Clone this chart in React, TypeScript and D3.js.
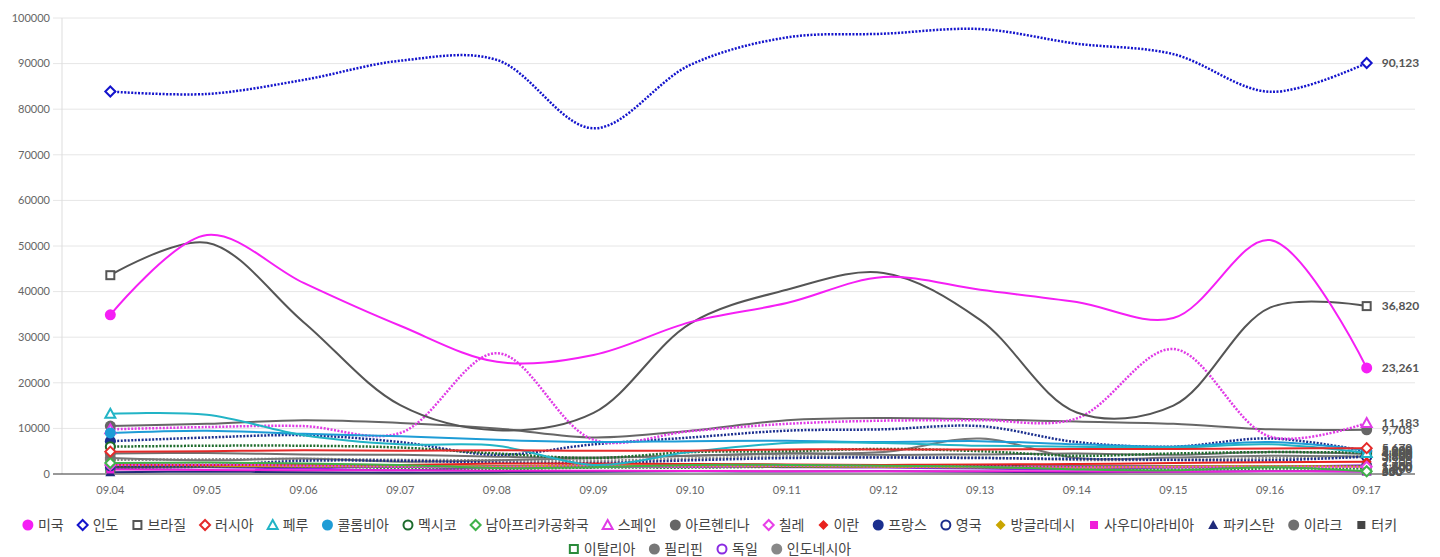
import React from "react";
import * as d3 from "d3";

const categories = ["09.04","09.05","09.06","09.07","09.08","09.09","09.10","09.11","09.12","09.13","09.14","09.15","09.16","09.17"];
const yTicks = [0,10000,20000,30000,40000,50000,60000,70000,80000,90000,100000];

const usa = [34900, 52400, 41900, 32500, 24600, 26100, 33300, 37500, 43200, 40400, 37700, 34200, 51300, 23261];
const india = [83883, 83341, 86432, 90632, 90802, 75809, 89706, 95735, 96551, 97570, 94372, 92071, 83809, 90123];
const brazil = [43600, 50700, 33300, 15100, 9600, 13400, 33000, 40400, 44100, 33800, 13500, 15000, 36500, 36820];
const russia = [4900, 5000, 5200, 5100, 5200, 5100, 5100, 5400, 5400, 5400, 5500, 5500, 5600, 5670];
const peru = [13200, 13000, 8500, 6500, 6200, 2000, 4800, 6800, 6800, 6200, 6000, 5800, 6500, 4600];
const colombia = [9000, 9500, 8800, 8300, 7500, 7000, 7200, 7300, 7000, 7200, 6500, 6000, 7000, 5200];
const mexico = [6000, 6200, 6200, 5800, 4500, 3500, 4800, 5000, 5500, 5000, 4000, 4500, 4800, 4700];
const southAfrica = [2400, 2500, 2300, 2000, 1300, 1500, 2000, 2000, 1800, 1600, 1000, 800, 1500, 600];
const spain = [9800, 10300, 10500, 9000, 26500, 7500, 9400, 11000, 11700, 11800, 12200, 27400, 8200, 11183];
const argentina = [10500, 11000, 11800, 11200, 10000, 8000, 9500, 11800, 12300, 12000, 11500, 11000, 9800, 9703];
const chile = [2000, 2100, 1800, 1600, 1500, 1700, 1600, 1800, 1700, 1600, 1500, 1500, 1600, 1600];
const iran = [2100, 2000, 2050, 2000, 2300, 2300, 2200, 2100, 2000, 2100, 2200, 2400, 2600, 2700];
const france = [7200, 8000, 8500, 7000, 4200, 6500, 8000, 9500, 9800, 10500, 7000, 6000, 7800, 5000];
const uk = [1800, 1900, 2900, 2900, 2500, 2400, 3000, 3500, 3600, 3500, 3300, 3100, 3000, 3800];
const bangladesh = [1900, 1800, 1700, 1800, 1600, 1900, 1800, 1700, 1600, 1500, 1400, 1600, 1700, 1600];
const saudi = [1000, 900, 800, 800, 700, 700, 650, 600, 600, 600, 550, 500, 600, 550];
const pakistan = [400, 500, 400, 300, 400, 500, 600, 550, 600, 500, 400, 500, 600, 550];
const iraq = [4500, 4600, 4300, 4200, 3800, 3600, 4000, 4500, 4200, 4300, 4500, 4200, 4800, 4400];
const turkey = [1600, 1650, 1600, 1600, 1700, 1700, 1600, 1650, 1700, 1750, 1700, 1700, 1720, 1750];
const italy = [1300, 1600, 1700, 1300, 1100, 1400, 1400, 1600, 1600, 1500, 1400, 1000, 1200, 1200];
const philippines = [3500, 3000, 3400, 2700, 3000, 3500, 4000, 4500, 4800, 7800, 3500, 3600, 4000, 3800];
const germany = [1300, 1500, 1200, 800, 1500, 1500, 1900, 1500, 1400, 1200, 1000, 1400, 1600, 1900];
const indonesia = [3100, 3200, 3300, 3100, 3000, 2900, 3400, 3900, 3700, 3600, 3100, 3100, 3500, 3900];

type Sym = "circle" | "diamond" | "square" | "triangle";
interface S { name: string; values: number[]; color: string; symbol: Sym; filled: boolean; dotted: boolean; }

const series: S[] = [
  { name: "미국", values: usa, color: "#f51ff5", symbol: "circle", filled: true, dotted: false },
  { name: "인도", values: india, color: "#1414cc", symbol: "diamond", filled: false, dotted: true },
  { name: "브라질", values: brazil, color: "#555555", symbol: "square", filled: false, dotted: false },
  { name: "러시아", values: russia, color: "#e52a2a", symbol: "diamond", filled: false, dotted: false },
  { name: "페루", values: peru, color: "#22b4c6", symbol: "triangle", filled: false, dotted: false },
  { name: "콜롬비아", values: colombia, color: "#1e9cd6", symbol: "circle", filled: true, dotted: false },
  { name: "멕시코", values: mexico, color: "#1d6b2c", symbol: "circle", filled: false, dotted: true },
  { name: "남아프리카공화국", values: southAfrica, color: "#3fb24a", symbol: "diamond", filled: false, dotted: false },
  { name: "스페인", values: spain, color: "#e03be6", symbol: "triangle", filled: false, dotted: true },
  { name: "아르헨티나", values: argentina, color: "#666666", symbol: "circle", filled: true, dotted: false },
  { name: "칠레", values: chile, color: "#e83fe8", symbol: "diamond", filled: false, dotted: true },
  { name: "이란", values: iran, color: "#e8221e", symbol: "diamond", filled: true, dotted: false },
  { name: "프랑스", values: france, color: "#1b2f8f", symbol: "circle", filled: true, dotted: true },
  { name: "영국", values: uk, color: "#1c2e8c", symbol: "circle", filled: false, dotted: true },
  { name: "방글라데시", values: bangladesh, color: "#c9a500", symbol: "diamond", filled: true, dotted: false },
  { name: "사우디아라비아", values: saudi, color: "#ef1fd8", symbol: "square", filled: true, dotted: false },
  { name: "파키스탄", values: pakistan, color: "#1f2a7a", symbol: "triangle", filled: true, dotted: false },
  { name: "이라크", values: iraq, color: "#707070", symbol: "circle", filled: true, dotted: false },
  { name: "터키", values: turkey, color: "#444444", symbol: "square", filled: true, dotted: false },
  { name: "이탈리아", values: italy, color: "#2a8a3a", symbol: "square", filled: false, dotted: true },
  { name: "필리핀", values: philippines, color: "#777777", symbol: "circle", filled: true, dotted: false },
  { name: "독일", values: germany, color: "#8a2be2", symbol: "circle", filled: false, dotted: false },
  { name: "인도네시아", values: indonesia, color: "#888888", symbol: "circle", filled: true, dotted: true },
];

const W = 1440, H = 557;
const left = 62, right = 1415, top = 18, bottom = 474;
const FONT = "Lato, 'Noto Sans CJK KR', sans-serif";

function Marker({ s, x, y, size = 5 }: { s: S; x: number; y: number; size?: number }) {
  const fill = s.filled ? s.color : "#fff";
  const sw = s.filled ? 0 : 2;
  const r = size;
  if (s.symbol === "circle") return <circle cx={x} cy={y} r={s.filled ? r + 0.5 : r - 0.5} fill={fill} stroke={s.color} strokeWidth={sw} />;
  if (s.symbol === "square") return <rect x={x - r + 1} y={y - r + 1} width={2 * r - 2} height={2 * r - 2} fill={fill} stroke={s.color} strokeWidth={sw} />;
  if (s.symbol === "diamond") return <path d={`M${x},${y - r}L${x + r},${y}L${x},${y + r}L${x - r},${y}Z`} fill={fill} stroke={s.color} strokeWidth={sw} />;
  return <path d={`M${x},${y - r}L${x + r},${y + r - 1}L${x - r},${y + r - 1}Z`} fill={fill} stroke={s.color} strokeWidth={sw} />;
}

function measure(text: string, font: string): number {
  if (typeof document === "undefined") return text.length * 8;
  const c = document.createElement("canvas").getContext("2d");
  if (!c) return text.length * 8;
  c.font = font;
  return c.measureText(text).width;
}

export default function App() {
  const x = d3.scalePoint<string>().domain(categories).range([left, right]).padding(0.5);
  const y = d3.scaleLinear().domain([0, 100000]).range([bottom, top]);
  const line = d3.line<number>()
    .x((_, i) => x(categories[i]) as number)
    .y((d) => y(d))
    .curve(d3.curveCatmullRom.alpha(0.5));

  // legend layout
  const legendFont = `14px ${FONT}`;
  const items = series.map((s) => ({ s, w: 15 + measure(s.name, legendFont) }));
  const gap = 14;
  const maxW = 1412;
  const rows: { s: S; w: number }[][] = [[]];
  let cur = 0;
  items.forEach((it) => {
    const add = (rows[rows.length - 1].length ? gap : 0) + it.w;
    if (cur + add > maxW) { rows.push([it]); cur = it.w; }
    else { rows[rows.length - 1].push(it); cur += add; }
  });
  const centerX = 710;
  const fmt = d3.format(",");

  return (
    <svg width={W} height={H} style={{ position: "absolute", left: 0, top: 0, display: "block", background: "#fff" }} fontFamily={FONT}>
      {yTicks.map((t) => (
        <g key={t}>
          {t !== 0 && <line x1={53} x2={right} y1={y(t)} y2={y(t)} stroke="#e6e6e6" strokeWidth={1} />}
          <text x={50} y={y(t)} dy="0.35em" textAnchor="end" fontSize={11} fill="#666">{t}</text>
        </g>
      ))}
      <line x1={left} x2={left} y1={top} y2={bottom} stroke="#dddddd" />
      {categories.map((c) => (
        <text key={c} x={x(c)} y={494} textAnchor="middle" fontSize={11} fill="#666">{c}</text>
      ))}
      {series.slice().reverse().map((s) => (
        <path key={s.name} d={line(s.values) || ""} fill="none" stroke={s.color} strokeWidth={s.dotted ? 2.5 : 2}
          strokeDasharray={s.dotted ? "2 1.5" : undefined} />
      ))}
      <line x1={53} x2={right} y1={bottom} y2={bottom} stroke="#333" strokeWidth={1} />
      {series.slice().reverse().map((s) => {
        const xf = x(categories[0]) as number;
        const xl = x(categories[categories.length - 1]) as number;
        return (
          <g key={s.name + "m"}>
            <Marker s={s} x={xf} y={y(s.values[0])} />
            <Marker s={s} x={xl} y={y(s.values[s.values.length - 1])} />
          </g>
        );
      })}
      {series.map((s) => {
        const xl = x(categories[categories.length - 1]) as number;
        const v = s.values[s.values.length - 1];
        return (
          <text key={s.name + "l"} x={xl + 15} y={y(v)} dy="0.35em" fontSize={12} fontWeight="bold" fill="#555">{fmt(v)}</text>
        );
      })}
      {rows.map((row, ri) => {
        const total = row.reduce((a, it) => a + it.w, 0) + gap * (row.length - 1);
        let cx = centerX - total / 2;
        const yy = 525 + ri * 24;
        return (
          <g key={ri}>
            {row.map((it) => {
              const gx = cx;
              cx += it.w + gap;
              return (
                <g key={it.s.name}>
                  <Marker s={it.s} x={gx + 5} y={yy} size={5} />
                  <text x={gx + 15} y={yy} dy="0.35em" fontSize={14} fill="#444">{it.s.name}</text>
                </g>
              );
            })}
          </g>
        );
      })}
    </svg>
  );
}
